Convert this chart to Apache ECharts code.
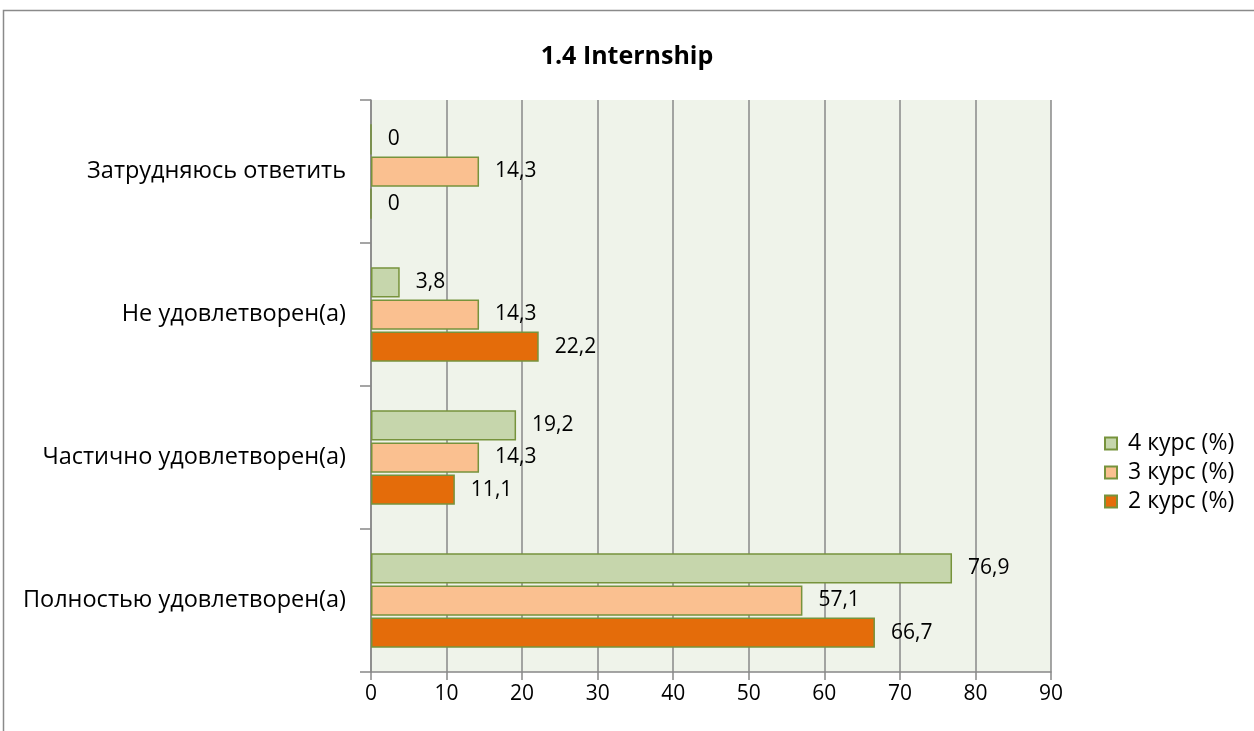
<!DOCTYPE html>
<html><head><meta charset="utf-8">
<script src="https://cdn.jsdelivr.net/npm/echarts@6/dist/echarts.min.js"></script>
<style>html,body{margin:0;padding:0;background:#fff}#c{width:1254px;height:731px}</style>
</head><body><div id="c"></div>
<script>
const categories = ['Полностью удовлетворен(а)', 'Частично удовлетворен(а)', 'Не удовлетворен(а)', 'Затрудняюсь ответить'];
const seriesNames = ['4 курс (%)', '3 курс (%)', '2 курс (%)'];
const kurs4 = [76.9, 19.2, 3.8, 0];
const kurs3 = [57.1, 14.3, 14.3, 14.3];
const kurs2 = [66.7, 11.1, 22.2, 0];
const xTicks = [0, 10, 20, 30, 40, 50, 60, 70, 80, 90];

const colors = ['#C6D6AC', '#FAC090', '#E46C0A'];
const font = '"Open Sans", sans-serif';
const chart = echarts.init(document.getElementById('c'));
const mk = (name, data, color) => ({
  name, type: 'bar', data,
  barGap: '6%', barCategoryGap: '34%',
  itemStyle: { color, borderColor: '#77933C', borderWidth: 1.5 },
  label: { show: true, position: 'right', distance: 16, color: '#000', fontSize: 21, fontFamily: font,
    formatter: p => String(p.value).replace('.', ',') }
});
chart.setOption({
  animation: false,
  title: { text: '1.4 Internship', left: 'center', top: 39,
    textStyle: { fontSize: 25, fontWeight: 'bold', fontFamily: font, color: '#000' } },
  graphic: [{ type: 'rect', shape: { x: 3.5, y: 10.5, width: 1300, height: 800 },
    style: { fill: 'none', stroke: '#8a8a8a', lineWidth: 1.5 }, silent: true }],
  legend: { orient: 'vertical', left: 1099, top: 427, itemGap: 6, itemWidth: 12, itemHeight: 12,
    icon: 'rect', data: seriesNames,
    textStyle: { fontSize: 23, fontFamily: font, color: '#000', padding: [0, 0, 0, 6] } },
  grid: { left: 371, right: 203, top: 100, bottom: 59, show: true, backgroundColor: '#EFF3EA', borderWidth: 0 },
  xAxis: { type: 'value', min: xTicks[0], max: xTicks[xTicks.length - 1], interval: 10,
    axisLine: { show: true, lineStyle: { color: '#888', width: 1.5 } },
    axisTick: { show: true, length: 8, lineStyle: { color: '#888', width: 1.5 } },
    splitLine: { show: true, lineStyle: { color: '#888', width: 1.5 } },
    axisLabel: { fontSize: 21, fontFamily: font, color: '#000', margin: 12 } },
  yAxis: { type: 'category', data: categories,
    axisLine: { show: true, lineStyle: { color: '#888', width: 1.5 } },
    axisTick: { show: true, length: 11, lineStyle: { color: '#888', width: 1.5 } },
    axisLabel: { fontSize: 23.5, fontFamily: font, color: '#000', margin: 25 } },
  series: [mk(seriesNames[0], kurs4, colors[0]), mk(seriesNames[1], kurs3, colors[1]), mk(seriesNames[2], kurs2, colors[2])]
});
</script></body></html>
